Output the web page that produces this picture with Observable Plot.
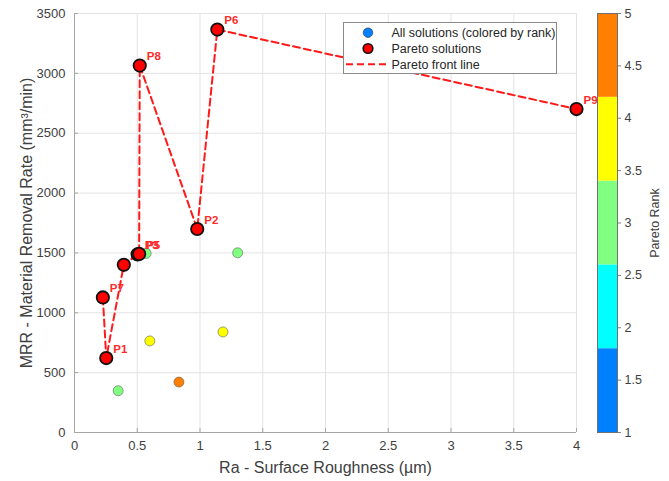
<!DOCTYPE html>
<html>
<head>
<meta charset="utf-8">
<script src="https://cdn.jsdelivr.net/npm/d3@7"></script>
<script src="https://cdn.jsdelivr.net/npm/@observablehq/plot@0.6"></script>
<style>
  body { margin: 0; background: #fff; }
  #wrap { position: relative; width: 669px; height: 481px; font-family: "Liberation Sans", Arial, sans-serif; }
  #wrap > svg, #wrap > figure { position: absolute; top: 0; margin: 0; }
  g[aria-label="x-axis label"], g[aria-label="y-axis label"] { font-size: 16px; }
  #cbar g[aria-label="y-axis label"] { font-size: 12.5px; }
</style>
</head>
<body>
<div id="wrap"></div>
<script>
// ---- data ----
const paretoLabels = ["P1", "P2", "P3", "P4", "P5", "P6", "P7", "P8", "P9"];
const paretoRa     = [0.253, 0.978, 0.503, 0.393, 0.515, 1.138, 0.226, 0.520, 4.0];
const paretoMRR    = [622, 1700, 1488, 1401, 1492, 3366, 1128, 3065, 2702];

const otherRa   = [0.348, 0.600, 0.832, 1.183, 1.300, 0.571];
const otherMRR  = [349, 765, 421, 840, 1501, 1496];
const otherRank = [3, 4, 5, 4, 3, 3];

const xTicks = [0, 0.5, 1, 1.5, 2, 2.5, 3, 3.5, 4];
const yTicks = [0, 500, 1000, 1500, 2000, 2500, 3000, 3500];
const rankTicks = [1, 1.5, 2, 2.5, 3, 3.5, 4, 4.5, 5];
const rankBinEdges = [1, 1.8, 2.6, 3.4, 4.2, 5];
const rankColors = ["#0080ff", "#00ffff", "#80ff80", "#ffff00", "#ff8000"];

// ---- derived tables ----
const pareto = paretoLabels.map((label, i) => ({label, ra: paretoRa[i], mrr: paretoMRR[i]}));
const front = [...pareto].sort((a, b) => a.ra - b.ra);
const allSolutions = [
  ...pareto.map(d => ({ra: d.ra, mrr: d.mrr, rank: 1})),
  ...otherRa.map((ra, i) => ({ra, mrr: otherMRR[i], rank: otherRank[i]}))
];
const rankColor = r => {
  for (let i = 0; i < rankColors.length; i++) if (r <= rankBinEdges[i + 1]) return rankColors[i];
  return rankColors[rankColors.length - 1];
};
const bins = rankColors.map((c, i) => ({lo: rankBinEdges[i], hi: rankBinEdges[i + 1], color: c}));

const font = '"Liberation Sans", Arial, sans-serif';
const axisColor = "#a6a6a6";
const textColor = "#404040";

const main = Plot.plot({
  width: 669, height: 481,
  marginLeft: 74, marginRight: 93, marginTop: 13, marginBottom: 49,
  style: {fontFamily: font, fontSize: "13px", color: textColor, background: "transparent"},
  x: {domain: [0, 4], ticks: xTicks, label: "Ra - Surface Roughness (µm)"},
  y: {domain: [0, 3500], ticks: yTicks, label: "MRR - Material Removal Rate (mm³/min)"},
  marks: [
    Plot.gridX(xTicks, {stroke: "#e3e3e3", strokeOpacity: 1}),
    Plot.gridY(yTicks, {stroke: "#e3e3e3", strokeOpacity: 1}),
    Plot.ruleX([0], {stroke: axisColor}),
    Plot.ruleY([0], {stroke: axisColor}),
    Plot.axisX(xTicks, {tickSize: -4, tickPadding: 12, stroke: axisColor, fill: textColor, tickFormat: d => String(d),
      label: "Ra - Surface Roughness (µm)", labelAnchor: "center", labelArrow: "none", labelOffset: 40}),
    Plot.axisY(yTicks, {tickSize: -4, tickPadding: 13, stroke: axisColor, fill: textColor, tickFormat: d => String(d),
      label: "MRR - Material Removal Rate (mm³/min)", labelAnchor: "center", labelArrow: "none", labelOffset: 54}),
    Plot.line(front, {x: "ra", y: "mrr", stroke: "#ff1a1a", strokeWidth: 2, strokeDasharray: "7,4"}),
    Plot.dot(allSolutions, {x: "ra", y: "mrr", r: 5, fill: d => rankColor(d.rank), stroke: "#555", strokeWidth: 0.8, strokeOpacity: 0.7}),
    Plot.text(pareto, {x: "ra", y: "mrr", text: "label", dx: 7, dy: -9, textAnchor: "start",
      fill: "#ff2a2a", fontWeight: "bold", fontSize: 11.5}),
    Plot.dot(pareto, {x: "ra", y: "mrr", r: 6.2, fill: "#ff0000", stroke: "#111", strokeWidth: 1.8})
  ]
});

const cbar = Plot.plot({
  width: 79, height: 481,
  marginLeft: 7, marginRight: 52, marginTop: 13, marginBottom: 49,
  style: {fontFamily: font, fontSize: "12.5px", color: textColor, background: "transparent"},
  x: {domain: [0, 1], axis: null},
  y: {domain: [1, 5], ticks: rankTicks, label: "Pareto Rank"},
  marks: [
    Plot.rect(bins, {x1: 0, x2: 1, y1: "lo", y2: "hi", fill: "color"}),
    Plot.frame({stroke: "#707070", strokeWidth: 1}),
    Plot.axisY(rankTicks, {anchor: "right", tickSize: 3, tickPadding: 4, stroke: "#808080", fill: textColor,
      tickFormat: d => String(d), label: "Pareto Rank", labelAnchor: "center", labelArrow: "none", labelOffset: 41})
  ]
});
cbar.id = "cbar";

const wrap = document.getElementById("wrap");
main.style.left = "0px";
cbar.style.left = "590px";
wrap.appendChild(main);
wrap.appendChild(cbar);

// ---- legend ----
const svg = d3.select(main);
const lg = svg.append("g").attr("font-family", font).attr("font-size", 12.5)
  .attr("fill", "#262626").attr("text-anchor", "start");
lg.append("rect").attr("x", 343.5).attr("y", 22.5).attr("width", 213).attr("height", 51)
  .attr("fill", "#fff").attr("stroke", "#8a8a8a").attr("stroke-width", 1);
const rows = [
  {label: "All solutions (colored by rank)", kind: "dot", fill: rankColors[0], stroke: "#333"},
  {label: "Pareto solutions", kind: "dot", fill: "#ff0000", stroke: "#111"},
  {label: "Pareto front line", kind: "line"}
];
rows.forEach((r, i) => {
  const y = 32.7 + i * 15.8;
  if (r.kind === "dot") {
    lg.append("circle").attr("cx", 368).attr("cy", y).attr("r", 4.8)
      .attr("fill", r.fill).attr("stroke", r.stroke).attr("stroke-width", i === 1 ? 1.6 : 0.6);
  } else {
    lg.append("line").attr("x1", 346).attr("x2", 390).attr("y1", y).attr("y2", y)
      .attr("stroke", "#ff1a1a").attr("stroke-width", 2).attr("stroke-dasharray", "7,4");
  }
  lg.append("text").attr("x", 391.5).attr("y", y).attr("dy", "0.35em").text(r.label);
});
</script>
</body>
</html>
